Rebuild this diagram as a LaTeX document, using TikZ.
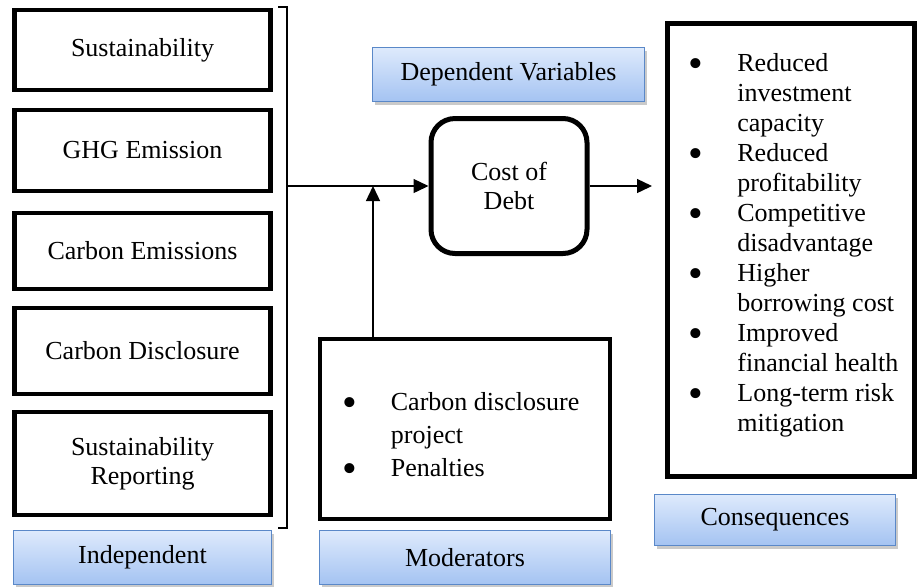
\documentclass[tikz,border=0pt]{standalone}
\usepackage{fontspec}
\setmainfont{Liberation Serif}
\usetikzlibrary{arrows.meta,shadows}
\definecolor{lblTop}{HTML}{DEEAFC}
\definecolor{lblBot}{HTML}{A4C3F2}
\definecolor{lblLine}{HTML}{5A88C8}
\tikzset{
  varbox/.style={draw, line width=2.2pt, minimum width=128pt, align=center, inner sep=0pt, font=\fontsize{13}{14.5}\selectfont},
  lbl/.style={draw=lblLine, line width=0.6pt, top color=lblTop, bottom color=lblBot, minimum height=27pt, inner sep=0pt, font=\fontsize{13}{15}\selectfont, drop shadow={shadow xshift=1pt, shadow yshift=-1.5pt, opacity=0.35, fill=black!60}},
  listtext/.style={inner sep=0pt, anchor=west},
  conn/.style={line width=0.7pt, -{Triangle[length=7.5pt,width=7pt]}},
}
\newcommand{\itm}{\raisebox{-3.3pt}{\fontsize{21}{21}\selectfont\textbullet}}

\begin{document}
\begin{tikzpicture}[x=0.5pt,y=-0.5pt]
		%%%%% START %%%%%
		\useasboundingbox (0,0) rectangle (917,586);
		
		% independent variables
		\node[varbox, minimum height=40pt] (sust) at (142.5,50) {Sustainability};
		\node[varbox, minimum height=40.3pt] (ghg) at (142.5,150.5) {GHG Emission};
		\node[varbox, minimum height=37.8pt] (carbem) at (142.5,251) {Carbon Emissions};
		\node[varbox, minimum height=42.8pt] (carbdis) at (142.5,351) {Carbon Disclosure};
		\node[varbox, minimum height=51.3pt] (sustrep) at (142.5,463.5) {Sustainability\\Reporting};
		
		\draw[line width=0.75pt] (278,7) -- (287,7) -- (287,528) -- (278,528);
		\coordinate (brk) at (287,186);
		\coordinate (join) at (373,186);
		
		% dependent variable
		\node[varbox, rounded corners=12pt, line width=2.5pt, minimum width=78pt, minimum height=67.5pt] (cost) at (509,186) {Cost of\\Debt};
		
		% moderators
		\node[varbox, minimum width=145pt, minimum height=90pt] (mod) at (465,429) {};
		\node[listtext, font=\fontsize{13}{16.5}\selectfont] (modlist) at (342,436.5) {\begin{tabular}{@{}p{24.25pt}@{}l@{}}
			\itm & Carbon disclosure\\
			     & project\\
			\itm & Penalties
		\end{tabular}};
		
		% consequences
		\node[varbox, line width=2.5pt, minimum width=123.5pt, minimum height=226.5pt] (cons) at (791,250) {};
		\node[listtext, font=\fontsize{13}{15}\selectfont] (conslist) at (688,245) {\begin{tabular}{@{}p{24.5pt}@{}l@{}}
			\itm & Reduced\\
			     & investment\\
			     & capacity\\
			\itm & Reduced\\
			     & profitability\\
			\itm & Competitive\\
			     & disadvantage\\
			\itm & Higher\\
			     & borrowing cost\\
			\itm & Improved\\
			     & financial health\\
			\itm & Long-term risk\\
			     & mitigation
		\end{tabular}};
		
		% connectors
		\draw[conn] (brk) -- (cost.west);
		\draw[conn] (join |- mod.north) -- (join);
		\draw[conn, shorten >=6.5pt] (cost.east) -- (cost.east -| cons.west);
		
		% labels
		\node[lbl, minimum width=129pt] (indeplbl) at (142.5,557.5) {Independent};
		\node[lbl, minimum width=145.5pt] (modlbl) at (465,557.5) {Moderators};
		\node[lbl, minimum width=136pt] (deplbl) at (508.5,74.5) {Dependent Variables};
		\node[lbl, minimum width=120.5pt, minimum height=25.5pt] (conslbl) at (775,520) {Consequences};
		%%%%% END %%%%%
\end{tikzpicture}
\end{document}
